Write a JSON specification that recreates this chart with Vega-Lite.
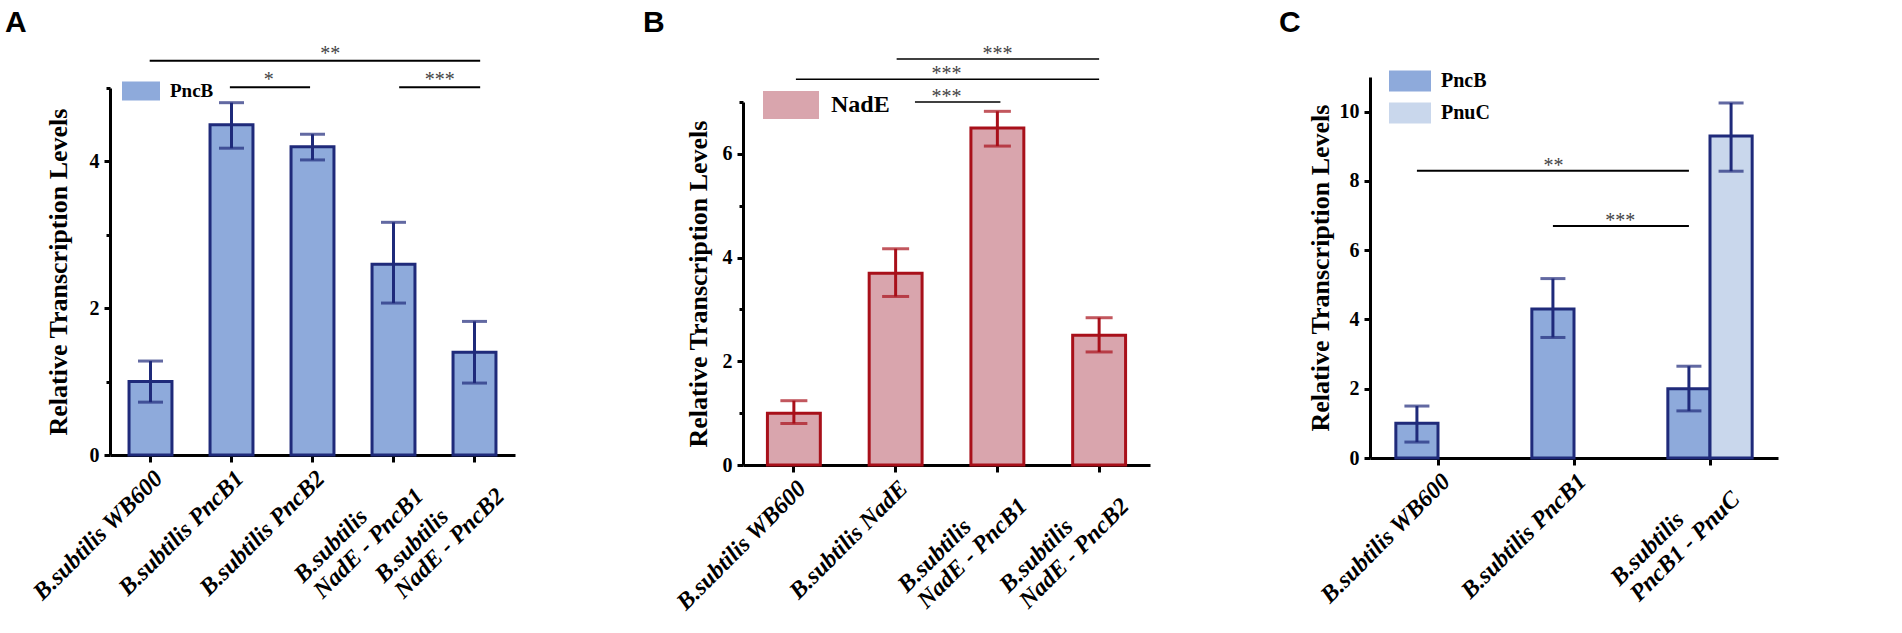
{
  "$schema": "https://vega.github.io/schema/vega-lite/v6.json",
  "padding": {"left": 5, "top": 7, "right": 5, "bottom": 5},
  "config": {
    "view": {"stroke": null},
    "font": "Liberation Serif",
    "axis": {
      "grid": false,
      "domainColor": "black",
      "domainWidth": 3,
      "tickColor": "black",
      "tickWidth": 3,
      "labelFont": "Liberation Serif",
      "labelFontWeight": "bold",
      "labelColor": "black",
      "titleFont": "Liberation Serif",
      "titleFontWeight": "bold",
      "titleColor": "black"
    },
    "axisX": {
      "labelAngle": -45,
      "labelFontStyle": "italic",
      "labelFontSize": 24,
      "labelLineHeight": 25,
      "labelLimit": 0,
      "tickSize": 7,
      "labelPadding": 4
    },
    "axisY": {
      "titleFontSize": 26,
      "labelFontSize": 20,
      "labelPadding": 5
    },
    "legend": {
      "title": null,
      "symbolType": "M-1,-0.5H1V0.5H-1Z",
      "symbolStrokeWidth": 0,
      "symbolOpacity": 1,
      "labelFont": "Liberation Serif",
      "labelFontWeight": "bold",
      "labelColor": "black"
    },
    "title": {"font": "Liberation Sans", "fontSize": 30, "fontWeight": "bold", "color": "black", "anchor": "start", "frame": "group"}
  },
  "datasets": {
    "barsA": [
      {"strain": "B.subtilis WB600", "gene": "PncB", "value": 1.0, "lo": 0.72, "hi": 1.28},
      {"strain": "B.subtilis PncB1", "gene": "PncB", "value": 4.5, "lo": 4.18, "hi": 4.8},
      {"strain": "B.subtilis PncB2", "gene": "PncB", "value": 4.2, "lo": 4.02, "hi": 4.37},
      {"strain": "B.subtilis\nNadE - PncB1", "gene": "PncB", "value": 2.6, "lo": 2.07, "hi": 3.17},
      {"strain": "B.subtilis\nNadE - PncB2", "gene": "PncB", "value": 1.4, "lo": 0.98, "hi": 1.82}
    ],
    "sigA": [
      {"from": 0.49, "to": 4.57, "y": 5.37, "mid": 2.72, "stars": "**"},
      {"from": 1.48, "to": 2.47, "y": 5.01, "mid": 1.96, "stars": "*"},
      {"from": 3.57, "to": 4.57, "y": 5.01, "mid": 4.07, "stars": "***"}
    ],
    "barsB": [
      {"strain": "B.subtilis WB600", "gene": "NadE", "value": 1.0, "lo": 0.8, "hi": 1.24},
      {"strain": "B.subtilis NadE", "gene": "NadE", "value": 3.7, "lo": 3.25, "hi": 4.17},
      {"strain": "B.subtilis\nNadE - PncB1", "gene": "NadE", "value": 6.5, "lo": 6.15, "hi": 6.82},
      {"strain": "B.subtilis\nNadE - PncB2", "gene": "NadE", "value": 2.5, "lo": 2.18, "hi": 2.84}
    ],
    "sigB": [
      {"from": 1.51, "to": 3.5, "y": 7.83, "mid": 2.5, "stars": "***"},
      {"from": 0.52, "to": 3.5, "y": 7.44, "mid": 2.0, "stars": "***"},
      {"from": 1.69, "to": 2.53, "y": 7.0, "mid": 2.0, "stars": "***"}
    ],
    "barsC": [
      {"strain": "B.subtilis WB600", "gene": "PncB", "value": 1.0, "lo": 0.46, "hi": 1.5},
      {"strain": "B.subtilis PncB1", "gene": "PncB", "value": 4.3, "lo": 3.48, "hi": 5.18},
      {"strain": "B.subtilis\nPncB1 - PnuC", "gene": "PncB", "value": 2.0, "lo": 1.36, "hi": 2.65},
      {"strain": "B.subtilis\nPncB1 - PnuC", "gene": "PnuC", "value": 9.3, "lo": 8.28, "hi": 10.25}
    ],
    "sigC": [
      {"from": 0.345, "to": 2.345, "y": 8.29, "mid": 1.35, "stars": "**"},
      {"from": 1.345, "to": 2.345, "y": 6.7, "mid": 1.84, "stars": "***"}
    ]
  },
  "resolve": {
    "scale": {"x": "independent", "y": "independent", "color": "independent"},
    "legend": {"color": "independent"}
  },
  "bounds": "flush",
  "spacing": 228,
  "hconcat": [
    {
      "width": 405,
      "height": 378,
      "title": {"text": "A", "dx": -105, "dy": -2},
      "resolve": {"scale": {"x": "independent"}},
      "layer": [
        {
          "data": {"name": "barsA"},
          "encoding": {
            "x": {
              "field": "strain", "type": "nominal", "sort": null, "title": null,
              "scale": {"paddingInner": 0.47, "paddingOuter": 0.235},
              "axis": {"labelExpr": "indexof(datum.label, '\\n') > 0 ? [pad(split(datum.label, '\\n')[0], 19, '\u00a0') + '\u200b', split(datum.label, '\\n')[1]] : datum.label"}
            }
          },
          "layer": [
            {
              "mark": {"type": "bar", "stroke": "#1f2a7a", "strokeWidth": 3},
              "encoding": {
                "y": {
                  "field": "value", "type": "quantitative",
                  "scale": {"domain": [0, 5], "range": [378, 11], "nice": false},
                  "axis": {"title": "Relative Transcription Levels", "titlePadding": 18, "values": [0, 1, 2, 3, 4, 5], "labelExpr": "datum.value % 2 == 0 ? format(datum.value, 'd') : ''", "tickSize": {"condition": {"test": "datum.value % 2 == 1", "value": 4}, "value": 6}}
                },
                "color": {
                  "field": "gene", "type": "nominal",
                  "scale": {"domain": ["PncB"], "range": ["#8eaadb"]},
                  "legend": {"orient": "none", "legendX": 12, "legendY": -5, "symbolSize": 1444, "labelFontSize": 19, "labelOffset": 10}
                }
              }
            },
            {
              "mark": {"type": "rule", "color": "#1f2a7a", "strokeWidth": 3},
              "encoding": {"y": {"field": "lo", "type": "quantitative"}, "y2": {"field": "hi"}}
            },
            {
              "mark": {"type": "tick", "color": "#1f2a7a", "thickness": 3, "size": 25},
              "encoding": {"y": {"field": "lo", "type": "quantitative"}}
            },
            {
              "mark": {"type": "tick", "color": "#1f2a7a", "thickness": 3, "size": 25},
              "encoding": {"y": {"field": "hi", "type": "quantitative"}}
            }
          ]
        },
        {
          "data": {"name": "sigA"},
          "layer": [
            {
              "mark": {"type": "rule", "color": "black", "strokeWidth": 2},
              "encoding": {
                "x": {"field": "from", "type": "quantitative", "scale": {"domain": [0, 5], "nice": false, "zero": false}, "axis": null},
                "x2": {"field": "to"},
                "y": {"field": "y", "type": "quantitative"}
              }
            },
            {
              "mark": {"type": "text", "fontSize": 20, "color": "#444444", "baseline": "alphabetic", "dy": -1},
              "encoding": {
                "x": {"field": "mid", "type": "quantitative", "scale": {"domain": [0, 5], "nice": false, "zero": false}, "axis": null},
                "y": {"field": "y", "type": "quantitative"},
                "text": {"field": "stars"}
              }
            }
          ]
        }
      ]
    },
    {
      "bounds": "flush",
      "spacing": 220,
      "resolve": {
        "scale": {"x": "independent", "y": "independent", "color": "independent"},
        "legend": {"color": "independent"}
      },
      "hconcat": [
        {
          "width": 407,
          "height": 388,
          "title": {"text": "B", "dx": -100, "dy": -2},
          "resolve": {"scale": {"x": "independent"}},
          "layer": [
            {
              "data": {"name": "barsB"},
              "encoding": {
                "x": {
                  "field": "strain", "type": "nominal", "sort": null, "title": null,
                  "scale": {"paddingInner": 0.48, "paddingOuter": 0.24},
                  "axis": {"labelExpr": "indexof(datum.label, '\\n') > 0 ? [pad(split(datum.label, '\\n')[0], 19, '\u00a0') + '\u200b', split(datum.label, '\\n')[1]] : datum.label"}
                }
              },
              "layer": [
                {
                  "mark": {"type": "bar", "stroke": "#a8101a", "strokeWidth": 3},
                  "encoding": {
                    "y": {
                      "field": "value", "type": "quantitative",
                      "scale": {"domain": [0, 7], "range": [388, 25], "nice": false},
                      "axis": {"title": "Relative Transcription Levels", "titlePadding": 11, "values": [0, 1, 2, 3, 4, 5, 6, 7], "labelExpr": "datum.value % 2 == 0 ? format(datum.value, 'd') : ''", "tickSize": {"condition": {"test": "datum.value % 2 == 1", "value": 4}, "value": 6}}
                    },
                    "color": {
                      "field": "gene", "type": "nominal",
                      "scale": {"domain": ["NadE"], "range": ["#d9a5ad"]},
                      "legend": {"orient": "none", "legendX": 20, "legendY": 0, "symbolSize": 3136, "labelFontSize": 24, "labelOffset": 12}
                    }
                  }
                },
                {
                  "mark": {"type": "rule", "color": "#a8101a", "strokeWidth": 3},
                  "encoding": {"y": {"field": "lo", "type": "quantitative"}, "y2": {"field": "hi"}}
                },
                {
                  "mark": {"type": "tick", "color": "#a8101a", "thickness": 3, "size": 27},
                  "encoding": {"y": {"field": "lo", "type": "quantitative"}}
                },
                {
                  "mark": {"type": "tick", "color": "#a8101a", "thickness": 3, "size": 27},
                  "encoding": {"y": {"field": "hi", "type": "quantitative"}}
                }
              ]
            },
            {
              "data": {"name": "sigB"},
              "layer": [
                {
                  "mark": {"type": "rule", "color": "black", "strokeWidth": 1.5},
                  "encoding": {
                    "x": {"field": "from", "type": "quantitative", "scale": {"domain": [0, 4], "nice": false, "zero": false}, "axis": null},
                    "x2": {"field": "to"},
                    "y": {"field": "y", "type": "quantitative"}
                  }
                },
                {
                  "mark": {"type": "text", "fontSize": 20, "color": "#444444", "baseline": "alphabetic", "dy": 1},
                  "encoding": {
                    "x": {"field": "mid", "type": "quantitative", "scale": {"domain": [0, 4], "nice": false, "zero": false}, "axis": null},
                    "y": {"field": "y", "type": "quantitative"},
                    "text": {"field": "stars"}
                  }
                }
              ]
            }
          ]
        },
        {
          "width": 408,
          "height": 381,
          "title": {"text": "C", "dx": -91, "dy": -18},
          "resolve": {"scale": {"x": "independent"}},
          "layer": [
            {
              "data": {"name": "barsC"},
              "encoding": {
                "x": {
                  "field": "strain", "type": "nominal", "sort": null, "title": null,
                  "scale": {"paddingInner": 0.38, "paddingOuter": 0.19},
                  "axis": {"labelExpr": "indexof(datum.label, '\\n') > 0 ? [pad(split(datum.label, '\\n')[0], 19, '\u00a0') + '\u200b', split(datum.label, '\\n')[1]] : datum.label"}
                },
                "xOffset": {"field": "gene", "type": "nominal", "scale": {"domain": ["PncB", "PnuC"], "paddingInner": 0, "paddingOuter": 0}}
              },
              "layer": [
                {
                  "mark": {"type": "bar", "stroke": "#1f2a7a", "strokeWidth": 3},
                  "encoding": {
                    "y": {
                      "field": "value", "type": "quantitative",
                      "scale": {"domain": [0, 11], "nice": false},
                      "axis": {"title": "Relative Transcription Levels", "titlePadding": 6, "values": [0, 1, 2, 3, 4, 5, 6, 7, 8, 9, 10, 11], "labelExpr": "datum.value % 2 == 0 ? format(datum.value, 'd') : ''", "tickSize": {"condition": {"test": "datum.value % 2 == 1", "value": 4}, "value": 6}}
                    },
                    "color": {
                      "field": "gene", "type": "nominal",
                      "scale": {"domain": ["PncB", "PnuC"], "range": ["#8eaadb", "#c9d7ec"]},
                      "legend": {"orient": "none", "legendX": 19, "legendY": -17, "symbolSize": 1764, "labelFontSize": 20, "labelOffset": 10, "rowPadding": -11}
                    }
                  }
                },
                {
                  "mark": {"type": "rule", "color": "#1f2a7a", "strokeWidth": 3},
                  "encoding": {"y": {"field": "lo", "type": "quantitative"}, "y2": {"field": "hi"}}
                },
                {
                  "mark": {"type": "tick", "color": "#1f2a7a", "thickness": 3, "size": 25},
                  "encoding": {"y": {"field": "lo", "type": "quantitative"}}
                },
                {
                  "mark": {"type": "tick", "color": "#1f2a7a", "thickness": 3, "size": 25},
                  "encoding": {"y": {"field": "hi", "type": "quantitative"}}
                }
              ]
            },
            {
              "data": {"name": "sigC"},
              "layer": [
                {
                  "mark": {"type": "rule", "color": "black", "strokeWidth": 2},
                  "encoding": {
                    "x": {"field": "from", "type": "quantitative", "scale": {"domain": [0, 3], "nice": false, "zero": false}, "axis": null},
                    "x2": {"field": "to"},
                    "y": {"field": "y", "type": "quantitative"}
                  }
                },
                {
                  "mark": {"type": "text", "fontSize": 20, "color": "#444444", "baseline": "alphabetic", "dy": 1},
                  "encoding": {
                    "x": {"field": "mid", "type": "quantitative", "scale": {"domain": [0, 3], "nice": false, "zero": false}, "axis": null},
                    "y": {"field": "y", "type": "quantitative"},
                    "text": {"field": "stars"}
                  }
                }
              ]
            }
          ]
        }
      ]
    }
  ]
}
